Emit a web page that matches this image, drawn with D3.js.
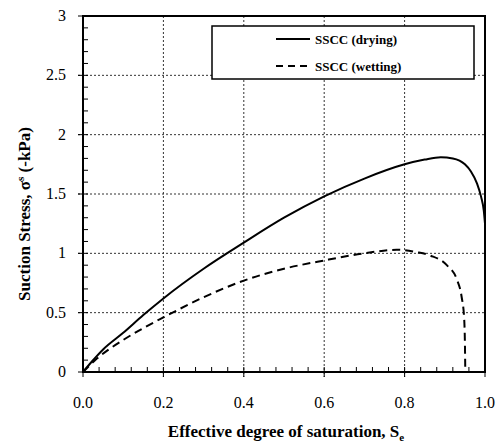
<!DOCTYPE html>
<html>
<head>
<meta charset="utf-8" />
<script src="https://cdn.jsdelivr.net/npm/d3@7"></script>
<style>
  body { margin: 0; background: #fff; }
</style>
</head>
<body>
<div id="chart"></div>
<script>
// drying curve, Se vs suction stress (kPa)
var dryingSe = [0, 0.02, 0.05, 0.1, 0.15, 0.2, 0.3, 0.4, 0.5, 0.6, 0.7, 0.8, 0.85, 0.89, 0.92, 0.95, 0.965, 0.98, 0.99, 0.997, 1.0];
var dryingSs = [0, 0.08, 0.19, 0.33, 0.48, 0.62, 0.87, 1.09, 1.3, 1.48, 1.63, 1.75, 1.79, 1.81, 1.8, 1.75, 1.69, 1.59, 1.48, 1.36, 1.25];
// wetting curve
var wettingSe = [0, 0.03, 0.06, 0.1, 0.15, 0.2, 0.3, 0.4, 0.5, 0.6, 0.7, 0.78, 0.83, 0.865, 0.905, 0.93, 0.942, 0.948, 0.95, 0.951];
var wettingSs = [0, 0.1, 0.18, 0.27, 0.37, 0.46, 0.63, 0.77, 0.87, 0.94, 1.0, 1.03, 1.01, 0.98, 0.9, 0.78, 0.63, 0.46, 0.25, 0];

var xTicks = [0, 0.2, 0.4, 0.6, 0.8, 1.0];
var yTicks = [0, 0.5, 1, 1.5, 2, 2.5, 3];
var legendLabels = ["SSCC (drying)", "SSCC (wetting)"];

var FONT = "'Times New Roman', Times, 'Liberation Serif', 'DejaVu Serif', 'Noto Serif', serif";
var W = 500, H = 443;
var margin = {top: 16, right: 15, bottom: 71, left: 83};
var w = W - margin.left - margin.right,
    h = H - margin.top - margin.bottom;

var x = d3.scaleLinear().domain([0, 1]).range([0, w]);
var y = d3.scaleLinear().domain([0, 3]).range([h, 0]);

var svg = d3.select("#chart").append("svg")
    .attr("width", W)
    .attr("height", H)
    .attr("font-family", FONT);

var g = svg.append("g")
    .attr("transform", "translate(" + margin.left + "," + margin.top + ")");

// gridlines
g.selectAll(".vgrid")
    .data(xTicks.slice(1, -1))
    .enter().append("line")
    .attr("x1", function (d) { return x(d); })
    .attr("x2", function (d) { return x(d); })
    .attr("y1", 0).attr("y2", h + 5)
    .attr("stroke", "#333").attr("stroke-width", 1)
    .attr("stroke-dasharray", "2,2");

g.selectAll(".hgrid")
    .data(yTicks.slice(1, -1))
    .enter().append("line")
    .attr("x1", -5).attr("x2", w)
    .attr("y1", function (d) { return y(d); })
    .attr("y2", function (d) { return y(d); })
    .attr("stroke", "#333").attr("stroke-width", 1)
    .attr("stroke-dasharray", "2,2");

// minor ticks (inside)
var xMinor = d3.range(0, 1.0001, 0.04);
var yMinor = d3.range(0, 3.0001, 0.1);
g.selectAll(".xminor").data(xMinor).enter().append("line")
    .attr("x1", function (d) { return x(d); })
    .attr("x2", function (d) { return x(d); })
    .attr("y1", h).attr("y2", h - 5)
    .attr("stroke", "#000").attr("stroke-width", 1);
g.selectAll(".yminor").data(yMinor).enter().append("line")
    .attr("x1", 0).attr("x2", 5)
    .attr("y1", function (d) { return y(d); })
    .attr("y2", function (d) { return y(d); })
    .attr("stroke", "#000").attr("stroke-width", 1);

// major ticks outside
g.selectAll(".xmajor").data(xTicks).enter().append("line")
    .attr("x1", function (d) { return x(d); })
    .attr("x2", function (d) { return x(d); })
    .attr("y1", h).attr("y2", h + 5)
    .attr("stroke", "#000").attr("stroke-width", 1);
g.selectAll(".ymajor").data(yTicks).enter().append("line")
    .attr("x1", -5).attr("x2", 0)
    .attr("y1", function (d) { return y(d); })
    .attr("y2", function (d) { return y(d); })
    .attr("stroke", "#000").attr("stroke-width", 1);

// frame
g.append("rect")
    .attr("x", 0).attr("y", 0)
    .attr("width", w).attr("height", h)
    .attr("fill", "none")
    .attr("stroke", "#000").attr("stroke-width", 2);

// tick labels
g.selectAll(".xlab").data(xTicks).enter().append("text")
    .attr("x", function (d) { return x(d); })
    .attr("y", h + 36)
    .attr("text-anchor", "middle")
    .attr("font-size", 16)
    .text(function (d) { return d.toFixed(1); });

g.selectAll(".ylab").data(yTicks).enter().append("text")
    .attr("x", -17)
    .attr("y", function (d) { return y(d) + 5; })
    .attr("text-anchor", "end")
    .attr("font-size", 16)
    .text(function (d) { return d; });

// axis titles
var xt = svg.append("text")
    .attr("x", margin.left + w / 2 + 2)
    .attr("y", 437)
    .attr("text-anchor", "middle")
    .attr("font-size", 17)
    .attr("font-weight", "bold")
    .text("Effective degree of saturation, S");
xt.append("tspan").attr("font-size", 11).attr("dy", 4).text("e");

var yt = svg.append("text")
    .attr("transform", "translate(30," + (margin.top + h / 2 + 20) + ") rotate(-90)")
    .attr("text-anchor", "middle")
    .attr("font-size", 17)
    .attr("font-weight", "bold")
    .text("Suction Stress, σ");
yt.append("tspan").attr("font-size", 11).attr("dy", -6).text("s");
yt.append("tspan").attr("dy", 6).text(" (-kPa)");

// curves
var line = d3.line()
    .x(function (d) { return x(d[0]); })
    .y(function (d) { return y(d[1]); })
    .curve(d3.curveMonotoneX);

var drying = dryingSe.map(function (s, i) { return [s, dryingSs[i]]; });
var wetting = wettingSe.map(function (s, i) { return [s, wettingSs[i]]; });

g.append("path")
    .datum(drying)
    .attr("d", line)
    .attr("fill", "none")
    .attr("stroke", "#000")
    .attr("stroke-width", 2);

g.append("path")
    .datum(wetting)
    .attr("d", line)
    .attr("fill", "none")
    .attr("stroke", "#000")
    .attr("stroke-width", 2)
    .attr("stroke-dasharray", "8,5");

// legend
var lg = svg.append("g").attr("transform", "translate(212,26)");
lg.append("rect")
    .attr("width", 262).attr("height", 53)
    .attr("fill", "#fff")
    .attr("stroke", "#000").attr("stroke-width", 1.5);

var items = lg.selectAll(".item").data(legendLabels).enter().append("g")
    .attr("transform", function (d, i) { return "translate(0," + (13 + i * 27) + ")"; });
items.append("line")
    .attr("x1", 64).attr("x2", 98)
    .attr("y1", 0).attr("y2", 0)
    .attr("stroke", "#000").attr("stroke-width", 2)
    .attr("stroke-dasharray", function (d, i) { return i ? "7,5" : null; });
items.append("text")
    .attr("x", 103).attr("y", 5)
    .attr("font-size", 13)
    .attr("font-weight", "bold")
    .text(function (d) { return d; });
</script>
</body>
</html>
